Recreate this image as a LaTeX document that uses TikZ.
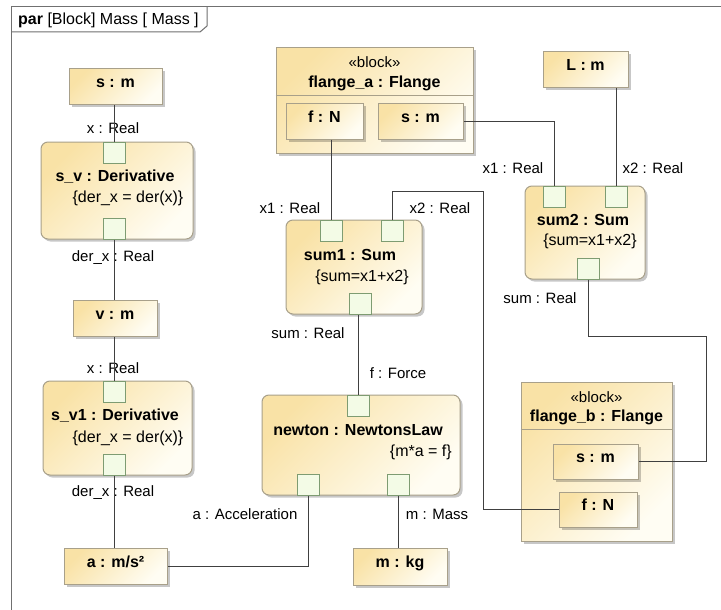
\documentclass[tikz,border=0pt]{standalone}
\usepackage{fontspec}
\setmainfont{Liberation Sans}
\usetikzlibrary{shadows}
\definecolor{ylwA}{HTML}{F9E2A6}
\definecolor{ylwB}{HTML}{FFFDF3}
\definecolor{bord}{HTML}{A8A08A}
\definecolor{portfill}{HTML}{F3FBE6}
\definecolor{portdraw}{HTML}{7E9C72}
\definecolor{wirec}{HTML}{404040}
\definecolor{framec}{HTML}{707070}
\tikzset{
 shadowed/.style={drop shadow={shadow xshift=2.5pt, shadow yshift=-2.5pt, fill=black, opacity=0.22}},
 boxfill/.style={draw=bord, line width=1pt, top color=ylwA, bottom color=ylwB, shading angle=45, shadowed},
 prop/.style={boxfill, inner sep=0pt, font=\fontsize{16}{18}\selectfont\bfseries, text height=11pt, text depth=9pt},
 part/.style={boxfill, rounded corners=7pt, inner sep=0pt},
 blk/.style={boxfill, inner sep=0pt},
 port/.style={draw=portdraw, fill=portfill, line width=1pt, minimum width=22pt, minimum height=21pt, inner sep=0pt},
 lbl/.style={font=\fontsize{15}{17}\selectfont, inner sep=0pt},
 cons/.style={font=\fontsize{16}{18}\selectfont, inner sep=0pt},
 ttl/.style={font=\fontsize{16}{18}\selectfont\bfseries, inner sep=0pt},
 wire/.style={draw=wirec, line width=1pt},
 divider/.style={draw=bord, line width=1pt},
}
\begin{document}
\begin{tikzpicture}[x=1pt,y=-1pt]
\useasboundingbox (0,0) rectangle (721,610);
\fill[white] (0,0) rectangle (721,610);
% frame
\draw[draw=framec, line width=1pt] (11,612) -- (11,7) -- (723,7);
\draw[draw=framec, line width=1pt] (207,7) -- (207,26) -- (200,32) -- (11,32);
\node[anchor=west, font=\fontsize{16}{18}\selectfont, inner sep=0pt] (hdr) at (18,20) {\textbf{par} [Block] Mass [ Mass ]};

% left column
\node[prop, minimum width=93pt, minimum height=36pt] (sm) at (115.5,87) {s : m};
\node[part, minimum width=152pt, minimum height=97pt] (sv) at (117,190.5) {};
\node[port] (svin) at (114,152.5) {};
\node[port] (svout) at (114,228.5) {};
\node[ttl] (svt) at (115,177) {s\_v : Derivative};
\node[cons] (svc) at (128,198) {\{der\_x = der(x)\}};
\node[lbl] (svl1) at (113,128) {x : Real};
\node[lbl] (svl2) at (113,258) {der\_x : Real};

\node[prop, minimum width=84pt, minimum height=36pt] (vm) at (115,318) {v : m};
\node[part, minimum width=149pt, minimum height=94pt] (sv1) at (117.5,428) {};
\node[port] (sv1in) at (114,391.5) {};
\node[port] (sv1out) at (114,464.5) {};
\node[ttl] (sv1t) at (115,416) {s\_v1 : Derivative};
\node[cons] (sv1c) at (128,438) {\{der\_x = der(x)\}};
\node[lbl] (sv1l1) at (113,368) {x : Real};
\node[lbl] (sv1l2) at (113,493) {der\_x : Real};

\node[prop, minimum width=103pt, minimum height=36pt] (am) at (115.5,566) {a : m/s²};

% flange_a
\node[blk, minimum width=197pt, minimum height=105pt] (fa) at (374.5,100.5) {};
\draw[divider] (fa.west |- 0,96) -- (fa.east |- 0,96);
\node[lbl] (fast) at (374.5,62) {«block»};
\node[ttl] (fat) at (374.5,83) {flange\_a : Flange};
\node[prop, minimum width=77pt, minimum height=35pt] (faf) at (324.5,121.5) {f : N};
\node[prop, minimum width=85pt, minimum height=35pt] (fas) at (420.5,121.5) {s : m};

% sum1
\node[part, minimum width=136pt, minimum height=94pt] (s1) at (354,267) {};
\node[port] (s1a) at (331,231) {};
\node[port] (s1b) at (392.5,231) {};
\node[port] (s1o) at (360,303.5) {};
\node[ttl] (s1t) at (350,255) {sum1 : Sum};
\node[cons] (s1c) at (362,277) {\{sum=x1+x2\}};
\node[lbl] (s1l1) at (290,208) {x1 : Real};
\node[lbl] (s1l2) at (440,208) {x2 : Real};
\node[lbl] (s1l3) at (308,333) {sum : Real};

% sum2
\node[prop, minimum width=85pt, minimum height=36pt] (Lm) at (585.5,70) {L : m};
\node[part, minimum width=120pt, minimum height=93pt] (s2) at (585,232.5) {};
\node[port] (s2a) at (554,196.5) {};
\node[port] (s2b) at (616,196.5) {};
\node[port] (s2o) at (588,268.5) {};
\node[ttl] (s2t) at (583,220) {sum2 : Sum};
\node[cons] (s2c) at (590,241) {\{sum=x1+x2\}};
\node[lbl] (s2l1) at (513,168) {x1 : Real};
\node[lbl] (s2l2) at (653,168) {x2 : Real};
\node[lbl] (s2l3) at (540,298) {sum : Real};

% flange_b
\node[blk, minimum width=151pt, minimum height=159pt] (fb) at (596.5,461.5) {};
\draw[divider] (fb.west |- 0,429) -- (fb.east |- 0,429);
\node[lbl] (fbst) at (596.5,397) {«block»};
\node[ttl] (fbt) at (596.5,417) {flange\_b : Flange};
\node[prop, minimum width=85pt, minimum height=35pt] (fbs) at (595.5,461.5) {s : m};
\node[prop, minimum width=78pt, minimum height=35pt] (fbf) at (598,509.5) {f : N};

% newton
\node[part, minimum width=198pt, minimum height=100pt] (nw) at (361,445) {};
\node[port] (nin) at (358,406) {};
\node[port] (na) at (308,484.5) {};
\node[port] (nm) at (398,484.5) {};
\node[ttl] (nwt) at (358,430) {newton : NewtonsLaw};
\node[cons, anchor=east] (nwc) at (452,452) {\{m*a = f\}};
\node[lbl] (nwl1) at (398,373) {f : Force};
\node[lbl] (nwl2) at (245,514) {a : Acceleration};
\node[lbl] (nwl3) at (437,514) {m : Mass};
\node[prop, minimum width=94pt, minimum height=37pt] (mkg) at (400,566.5) {m : kg};

% wires
\coordinate (w2) at (483,191);
\coordinate (w5) at (706,336);
\draw[wire] (sm.south -| svin) -- (svin.north);
\draw[wire] (svout.south) -- (svout.south |- vm.north);
\draw[wire] (vm.south -| sv1in) -- (sv1in.north);
\draw[wire] (sv1out.south) -- (sv1out.south |- am.north);
\draw[wire] (na.south) |- (am.east);
\draw[wire] (nm.south) -- (nm.south |- mkg.north);
\draw[wire] (s1o.south -| nin) -- (nin.north);
\draw[wire] (faf.south -| s1a) -- (s1a.north);
\draw[wire] (s1b.north) |- (w2) |- (fbf.west);
\draw[wire] (fas.east) -| (s2a.north);
\draw[wire] (Lm.south -| s2b) -- (s2b.north);
\draw[wire] (s2o.south) |- (w5) |- (fbs.east);
\end{tikzpicture}
\end{document}
